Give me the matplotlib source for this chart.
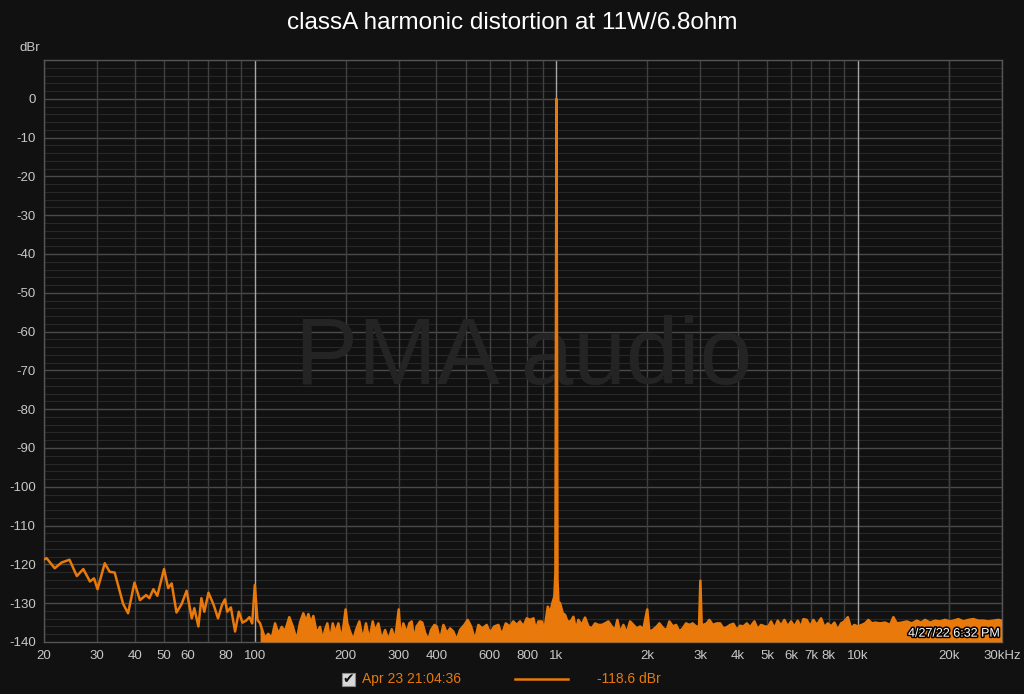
import matplotlib
matplotlib.use("Agg")
import matplotlib.pyplot as plt
from matplotlib.patches import Rectangle
import matplotlib.patheffects as pe

# ---------------- data ----------------
title = "classA harmonic distortion at 11W/6.8ohm"
legend_label = "Apr 23 21:04:36"
legend_value = "-118.6 dBr"
timestamp = "4/27/22 6:32 PM"
watermark = "PMA audio"

# low-frequency part of the trace (20 Hz .. 100 Hz)
low_freq = [20, 20.4, 21.7, 22.9, 24.3, 25.7, 27.0, 28.4, 29.3, 30.1, 31.8, 33.0,
            34.3, 36.6, 38.0, 39.9, 41.6, 43.6, 44.7, 46.1, 47.5, 50.0, 51.6, 53.0,
            55.0, 57.2, 59.4, 61.8, 63.0, 65.0, 66.5, 68.0, 70.2, 73.0, 75.5, 77.8,
            79.6, 81.0, 83.3, 86.0, 88.5, 91.0, 93.5, 96.0, 98.0]
low_db = [-118.7, -118.4, -121.0, -119.5, -118.8, -123.0, -121.2, -124.4, -123.6,
          -126.4, -119.7, -121.9, -122.1, -130.2, -132.6, -124.7, -129.2, -127.9,
          -128.7, -126.4, -128.1, -121.2, -126.1, -124.9, -132.4, -130.2, -126.8,
          -133.9, -131.3, -136.0, -128.7, -132.2, -127.3, -130.4, -133.9, -130.5,
          -129.0, -132.2, -131.1, -137.3, -132.2, -135.0, -134.5, -133.6, -135.2]

# noise floor and harmonics (100 Hz .. 30 kHz)
noise_freq = [100, 102, 104.1, 106.2, 108.1, 110.8, 113.8, 116.7, 119.7, 122.8, 125.9,
              130.1, 133.6, 137.7, 141.2, 144.8, 147.9, 150.5, 153.6, 156.3, 160.4,
              164.5, 168.0, 170.9, 173.9, 177.6, 181.3, 184.9, 189.2, 194.1, 200,
              202.6, 206.8, 212.1, 216.6, 222.1, 228.0, 233.6, 239.7, 246.0, 250.4,
              256.8, 263.6, 270.3, 277.2, 284.4, 291.7, 300, 304.6, 310.7, 319.0,
              325.4, 331, 338, 344, 353, 359, 367, 376, 384, 394, 401, 411, 422, 433,
              444, 455, 467, 479, 495, 508, 521, 537, 551, 568, 587, 602, 622, 642,
              659, 679, 702, 719, 739, 757, 777, 797, 818, 839, 854, 871, 894, 912,
              936, 953, 969, 984, 992, 1000, 1008, 1015, 1028, 1049, 1068, 1087,
              1115, 1138, 1161, 1182, 1213, 1244, 1276, 1309, 1343, 1377, 1413, 1449,
              1486, 1525, 1564, 1592, 1625, 1667, 1710, 1754, 1799, 1846, 1893, 1941,
              2000, 2032, 2086, 2151, 2194, 2262, 2322, 2368, 2431, 2492, 2556, 2622,
              2689, 2758, 2830, 2902, 2970, 3000, 3030, 3070, 3150, 3213, 3298, 3400,
              3487, 3576, 3670, 3764, 3860, 3962, 4062, 4166, 4276, 4384, 4530, 4650,
              4768, 4916, 5040, 5146, 5278, 5416, 5554, 5696, 5846, 5994, 6148, 6310,
              6471, 6586, 6759, 6932, 7108, 7295, 7540, 7732, 7936, 8137, 8346, 8565,
              8784, 9008, 9244, 9480, 9722, 9978, 10286, 10548, 10818, 11104, 11386,
              11828, 12288, 12766, 13092, 13438, 13962, 14504, 15068, 15654, 16176,
              16680, 17330, 18004, 18702, 19428, 20184, 20700, 21508, 22344, 23210,
              24110, 25046, 26018, 27030, 28090, 29180, 29940]
noise_db = [-125.3, -134.3, -135.2, -137.3, -139.0, -137.9, -139.0, -135.2, -137.9,
            -136.1, -137.3, -133.6, -136.0, -139.5, -135.0, -132.6, -134.7, -132.8,
            -135.2, -133.3, -137.7, -136.1, -139.5, -136.9, -135.2, -139.5, -135.2,
            -137.7, -135.2, -139.5, -131.6, -135.2, -137.3, -139.5, -136.9, -134.7,
            -139.5, -135.2, -139.5, -134.7, -137.3, -135.2, -139.5, -136.9, -139.5,
            -136.7, -139.5, -131.6, -139.5, -135.2, -137.7, -135.2, -134.7, -139.5,
            -136.0, -134.7, -135.0, -137.7, -139.5, -136.9, -135.6, -136.0, -139.5,
            -135.6, -137.7, -136.5, -137.3, -139.5, -136.9, -135.6, -134.3, -136.0,
            -139.5, -135.6, -136.5, -135.6, -137.7, -136.0, -135.6, -138.2, -135.2,
            -136.0, -134.7, -135.6, -134.7, -136.0, -133.9, -134.3, -133.9, -136.9,
            -134.7, -134.7, -136.9, -130.9, -132.6, -130.0, -128.3, -122.0, 0.0,
            -124.0, -129.6, -130.0, -132.6, -133.0, -134.7, -134.7, -133.5, -136.9,
            -134.3, -135.6, -133.7, -136.0, -136.5, -135.2, -135.6, -135.6, -135.2,
            -134.7, -136.0, -136.9, -134.3, -137.6, -135.6, -137.7, -134.7, -135.6,
            -136.5, -136.0, -136.7, -131.6, -137.3, -136.9, -136.0, -135.2, -136.5,
            -136.9, -134.7, -136.0, -135.6, -137.3, -136.5, -135.2, -135.6, -135.2,
            -136.0, -136.0, -124.2, -135.6, -135.6, -135.2, -134.3, -135.6, -135.2,
            -135.2, -136.5, -136.2, -135.6, -135.3, -136.9, -135.8, -136.0, -135.2,
            -136.2, -134.7, -136.7, -135.6, -136.0, -136.0, -134.7, -136.5, -134.5,
            -135.8, -134.3, -136.0, -134.7, -136.0, -134.5, -136.2, -134.1, -134.3,
            -136.0, -134.3, -135.6, -133.9, -136.2, -135.2, -136.0, -135.0, -136.9,
            -135.2, -134.7, -133.6, -136.5, -135.6, -136.0, -135.6, -135.2, -134.3,
            -135.2, -135.0, -135.2, -135.0, -135.6, -133.6, -135.2, -135.0, -134.7,
            -135.2, -134.5, -135.0, -134.3, -135.0, -134.5, -134.7, -134.3, -134.7,
            -134.5, -134.1, -134.7, -134.3, -134.1, -134.5, -134.5, -134.7, -134.5,
            -134.3, -134.5]

x_ticks = [20, 30, 40, 50, 60, 80, 100, 200, 300, 400, 600, 800, 1000, 2000, 3000,
           4000, 5000, 6000, 7000, 8000, 10000, 20000, 30000]
x_tick_labels = ["20", "30", "40", "50", "60", "80", "100", "200", "300", "400",
                 "600", "800", "1k", "2k", "3k", "4k", "5k", "6k", "7k", "8k", "10k",
                 "20k", "30kHz"]
y_ticks = [0, -10, -20, -30, -40, -50, -60, -70, -80, -90, -100, -110, -120, -130, -140]
y_tick_labels = ["0", "-10", "-20", "-30", "-40", "-50", "-60", "-70", "-80", "-90",
                 "-100", "-110", "-120", "-130", "-140"]

# ---------------- styling ----------------
BG = "#111111"
ORANGE = "#e8790a"
TXT = "#c8c8c8"
FONT = ["Liberation Sans", "DejaVu Sans"]
plt.rcParams["font.family"] = FONT

fig = plt.figure(figsize=(10.24, 6.94), dpi=100, facecolor=BG)
ax = fig.add_axes([44 / 1024, 1 - 642 / 694, 958 / 1024, 582 / 694])
ax.set_facecolor(BG)
ax.set_xscale("log")
ax.set_xlim(20, 30000)
ax.set_ylim(-140, 10)

# grid: horizontal every 2 dB, brighter every 10 dB
for v in range(-138, 10, 2):
    major = (v % 10 == 0)
    ax.axhline(v, color="#4a4a4a" if major else "#282828", lw=1.0 if major else 0.8,
               zorder=1)
# vertical lines at 1-2-3..9 of each decade
for dec in [10, 100, 1000, 10000]:
    for m in range(1, 10):
        f = dec * m
        if f < 20 or f > 30000:
            continue
        if m == 1:
            ax.axvline(f, color="#a8a8a8", lw=1.0, zorder=1)
        else:
            ax.axvline(f, color="#404040", lw=1.0, zorder=1)
ax.axvline(20000, color="#404040", lw=1.0, zorder=1)

for s in ax.spines.values():
    s.set_color("#555555")
    s.set_linewidth(1.0)

ax.set_xticks(x_ticks)
ax.set_xticklabels(x_tick_labels)
ax.set_xticks([], minor=True)
ax.set_yticks(y_ticks)
ax.set_yticklabels(y_tick_labels)
ax.tick_params(axis="both", length=0, colors=TXT, labelsize=9.5)
ax.tick_params(axis="x", pad=6)
ax.tick_params(axis="y", pad=6)

# watermark
ax.text(0.501, 0.485, watermark, transform=ax.transAxes, ha="center", va="center",
        fontsize=68, color="#242424", zorder=2)

# trace
ax.plot(low_freq + noise_freq, low_db + noise_db, color=ORANGE, lw=1.8, zorder=4,
        solid_joinstyle="round")
ax.fill_between(noise_freq[2:], noise_db[2:], -140, color=ORANGE, lw=0, zorder=3)

# timestamp inside the plot
ax.text(0.998, 0.004, timestamp, transform=ax.transAxes, ha="right", va="bottom",
        fontsize=9, color="white", zorder=6,
        path_effects=[pe.withStroke(linewidth=2.2, foreground="black")])

# title and unit label
fig.text(0.5, 1 - 23 / 694, title, ha="center", va="center", fontsize=17.5, color="white")
fig.text(30 / 1024, 1 - 48 / 694, "dBr", ha="center", va="center", fontsize=9.5, color=TXT)

# legend row
fig.patches.append(Rectangle((342 / 1024, 1 - 686 / 694), 13 / 1024, 13 / 694,
                             transform=fig.transFigure, facecolor="#d8d8d8",
                             edgecolor="#888888", lw=0.8))
fig.text(348.5 / 1024, 1 - 679.5 / 694, "\u2714", ha="center", va="center",
         fontsize=10, color="#111111", family=["DejaVu Sans"])
fig.text(362 / 1024, 1 - 679 / 694, legend_label, ha="left", va="center",
         fontsize=10, color=ORANGE)
fig.add_artist(plt.Line2D([515 / 1024, 568 / 1024], [1 - 679 / 694, 1 - 679 / 694],
                          transform=fig.transFigure, color=ORANGE, lw=1.8))
fig.text(597 / 1024, 1 - 679 / 694, legend_value, ha="left", va="center",
         fontsize=10, color=ORANGE)

fig.savefig("out.png", dpi=100, facecolor=BG)
